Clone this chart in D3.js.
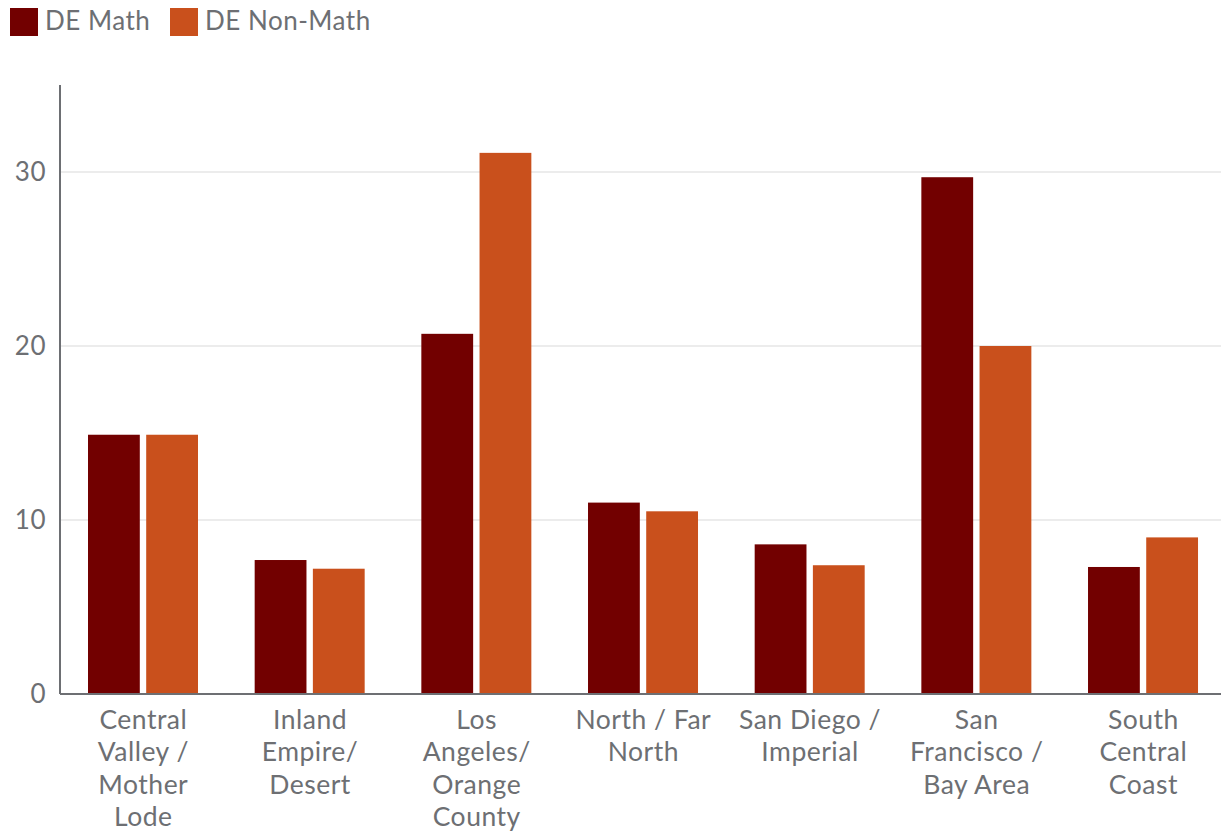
<!DOCTYPE html>
<html>
<head>
<meta charset="utf-8">
<script src="https://d3js.org/d3.v7.min.js"></script>
<style>
  body { margin: 0; background: #fff; }
  text { font-family: Lato, "Open Sans", sans-serif; fill: #6d6f73; letter-spacing: 0.5px; }
</style>
</head>
<body>
<svg id="chart" width="1221" height="834"></svg>
<script>
  // regions, each label split into its lines
  const categories = ["Central Valley / Mother Lode", "Inland Empire/ Desert", "Los Angeles/ Orange County",
                      "North / Far North", "San Diego / Imperial", "San Francisco / Bay Area", "South Central Coast"];
  const labelLines = [
    ["Central", "Valley /", "Mother", "Lode"],
    ["Inland", "Empire/", "Desert"],
    ["Los", "Angeles/", "Orange", "County"],
    ["North / Far", "North"],
    ["San Diego /", "Imperial"],
    ["San", "Francisco /", "Bay Area"],
    ["South", "Central", "Coast"]
  ];
  const seriesNames = ["DE Math", "DE Non-Math"];
  const deMath = [14.9, 7.7, 20.7, 11.0, 8.6, 29.7, 7.3];
  const deNonMath = [14.9, 7.2, 31.1, 10.5, 7.4, 20.0, 9.0];
  const yTicks = [0, 10, 20, 30];
  const colors = ["#720000", "#c9501c"];

  const svg = d3.select("#chart");
  const m = { left: 60, right: 1221, top: 85, bottom: 694 };

  // the plot area runs a little past the window edge
  const x0 = d3.scaleBand().domain(categories).range([m.left, m.left + 7 * 166.67]);
  const x1 = d3.scaleBand().domain(seriesNames).range([28, 138]).paddingInner(0.11);
  const y = d3.scaleLinear().domain([0, 35]).range([m.bottom, m.top]);

  // gridlines
  svg.append("g").selectAll("line")
    .data(yTicks.filter(d => d > 0))
    .join("line")
      .attr("x1", m.left).attr("x2", m.right)
      .attr("y1", d => y(d)).attr("y2", d => y(d))
      .attr("stroke", "#e6e6e6").attr("stroke-width", 1.5);

  // y labels
  svg.append("g").selectAll("text")
    .data(yTicks)
    .join("text")
      .attr("x", 46).attr("y", d => y(d) + 9)
      .attr("text-anchor", "end")
      .attr("font-size", 26)
      .text(d => d);

  // bars
  const rows = categories.map((c, i) => ({ cat: c, vals: [deMath[i], deNonMath[i]] }));
  const groups = svg.append("g").selectAll("g")
    .data(rows)
    .join("g")
      .attr("transform", d => `translate(${x0(d.cat)},0)`);
  groups.selectAll("rect")
    .data(d => d.vals.map((v, j) => ({ key: seriesNames[j], v: v, j: j })))
    .join("rect")
      .attr("x", d => x1(d.key))
      .attr("width", x1.bandwidth())
      .attr("y", d => y(d.v))
      .attr("height", d => y(0) - y(d.v))
      .attr("fill", d => colors[d.j]);

  // axis lines
  svg.append("line")
    .attr("x1", m.left).attr("x2", m.left).attr("y1", m.top).attr("y2", m.bottom)
    .attr("stroke", "#6d6f73").attr("stroke-width", 2);
  svg.append("line")
    .attr("x1", m.left).attr("x2", m.right).attr("y1", m.bottom).attr("y2", m.bottom)
    .attr("stroke", "#6d6f73").attr("stroke-width", 2);

  // category labels
  const lbl = svg.append("g").selectAll("text")
    .data(categories)
    .join("text")
      .attr("x", d => x0(d) + x0.bandwidth() / 2)
      .attr("y", 729)
      .attr("text-anchor", "middle")
      .attr("font-size", 26.5);
  lbl.selectAll("tspan")
    .data((d, i) => labelLines[i])
    .join("tspan")
      .attr("x", function() { return this.parentNode.getAttribute("x"); })
      .attr("dy", (d, i) => i === 0 ? 0 : 32.4)
      .text(d => d);

  // legend
  const legendX = [10, 170];
  const leg = svg.append("g").selectAll("g")
    .data(seriesNames)
    .join("g")
      .attr("transform", (d, i) => `translate(${legendX[i]},8)`);
  leg.append("rect").attr("width", 28).attr("height", 28).attr("fill", (d, i) => colors[i]);
  leg.append("text").attr("x", 35).attr("y", 22).attr("font-size", 26).text(d => d);
</script>
</body>
</html>
